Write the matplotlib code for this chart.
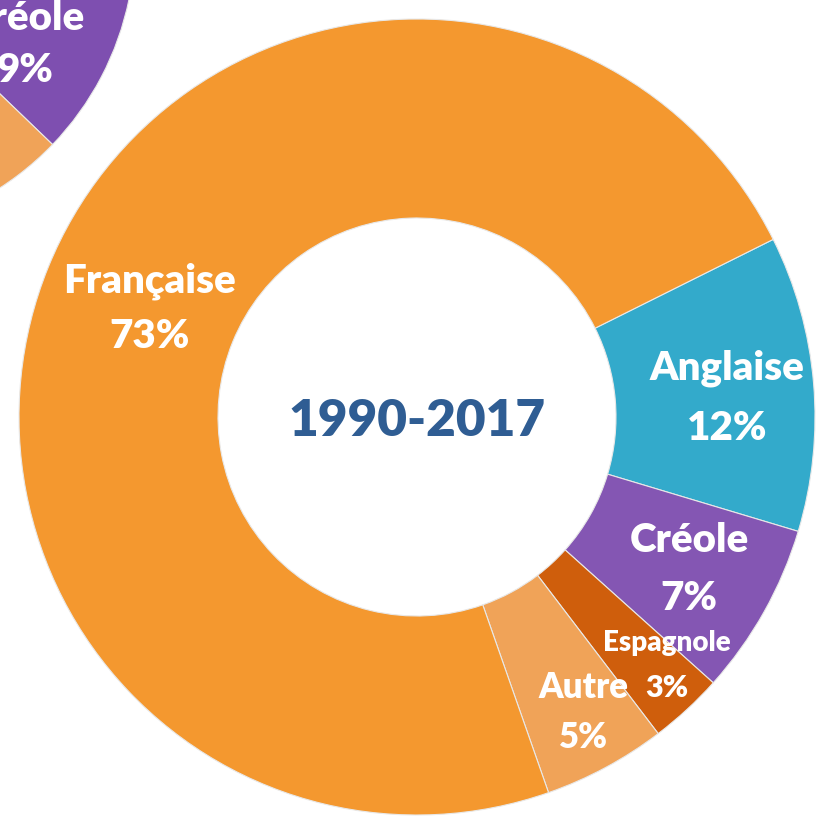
import matplotlib.pyplot as plt
import numpy as np

# Data
labels = ['Anglaise', 'Créole', 'Espagnole', 'Autre', 'Française']
values = [12, 7, 3, 5, 73]
colors = ['#33AACB', '#8456B3', '#CF5E0C', '#F0A358', '#F4982F']
center_label = '1990-2017'

# the neighbouring donut, mostly cropped out of the picture
prev_labels = ['Créole', 'Autre', 'Française']
prev_values = [9, 5, 86]
prev_colors = ['#7E4FB0', '#F0A358', '#F4982F']

plt.rcParams['font.family'] = ['Lato', 'DejaVu Sans']

fig = plt.figure(figsize=(8.17, 8.19), dpi=100)
ax = fig.add_axes([0, 0, 1, 1])

# main donut
cx, cy, R = 417, 402, 398
ax.pie(values, colors=colors, startangle=26.5, counterclock=False,
       center=(cx, cy), radius=R, frame=True,
       wedgeprops=dict(width=R * 0.5, edgecolor='#e8e8e8', linewidth=0.8))

# previous donut, top-left corner
pcx, pcy, pR = -160, 879, 295
ax.pie(prev_values, colors=prev_colors, startangle=-11.5, counterclock=False,
       center=(pcx, pcy), radius=pR, frame=True,
       wedgeprops=dict(width=pR * 0.5, edgecolor='#e8e8e8', linewidth=0.8))
ax.set_xlim(0, 817)
ax.set_ylim(0, 819)
ax.set_aspect('equal')
ax.axis('off')

# labels: (x, y of name, y of percentage, size of name, size of percentage)
lab_pos = {'Française': (150, 538, 482, 29, 29),
           'Anglaise': (727, 451, 391, 29, 29),
           'Créole': (689, 279, 221, 29, 29),
           'Espagnole': (667, 176, 131, 20, 22),
           'Autre': (583, 131, 81, 25, 25)}
for lab, val in zip(labels, values):
    x, y1, y2, fs1, fs2 = lab_pos[lab]
    ax.text(x, y1, lab, ha='center', va='center', color='white',
            fontsize=fs1, fontweight='heavy')
    ax.text(x, y2, f'{val}%', ha='center', va='center', color='white',
            fontsize=fs2, fontweight='heavy')

ax.text(25, 800, prev_labels[0], ha='center', va='center',
        color='white', fontsize=29, fontweight='heavy')
ax.text(25, 748, f'{prev_values[0]}%', ha='center', va='center',
        color='white', fontsize=29, fontweight='heavy')

ax.text(cx, cy - 4, center_label, ha='center', va='center', color='#2F5D93',
        fontsize=37, fontweight='heavy')

fig.savefig('out.png', dpi=100)
